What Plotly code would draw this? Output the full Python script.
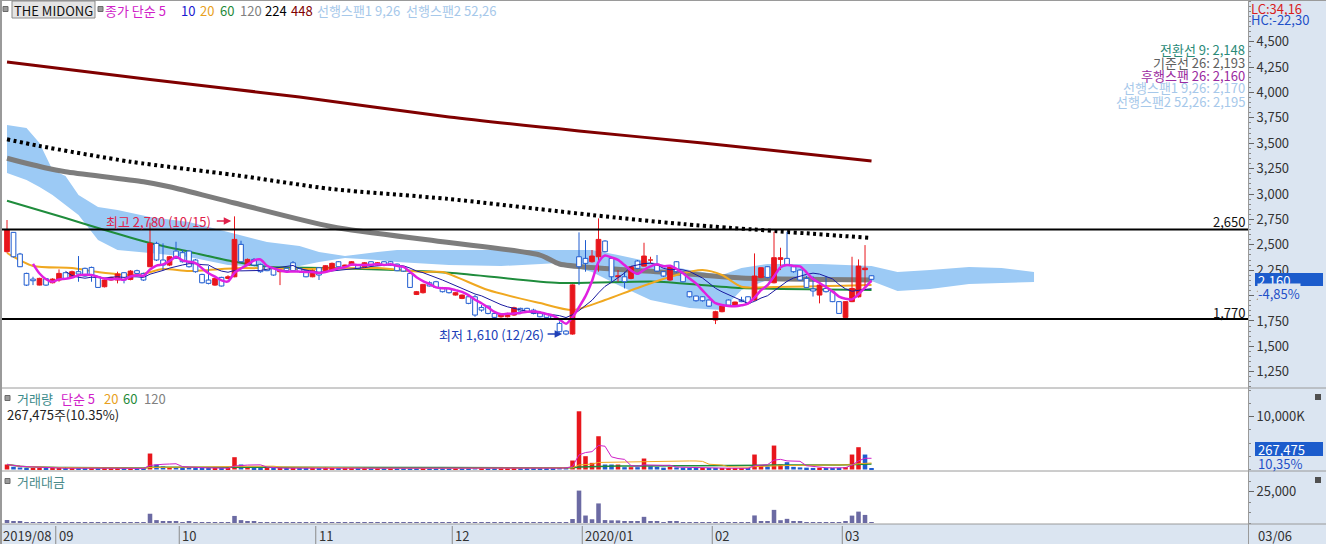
import pandas as pd
import plotly.graph_objects as go

W, H = 1326, 544

# ---------------- data ----------------
holidays = ["2019-09-12", "2019-09-13", "2019-10-03", "2019-10-09", "2019-12-25",
            "2019-12-31", "2020-01-01", "2020-01-24", "2020-01-27"]
trading_days = pd.bdate_range("2019-08-21", "2020-03-06", freq="C", holidays=holidays)

opens = [2432,2622,2409,2218,2162,2103,2166,2126,2153,2225,
         2179,2235,2268,2277,2185,2087,2153,2153,2225,2159,
         2245,2218,2284,2514,2350,2300,2438,2422,2438,2350,
         2208,2153,2103,2179,2169,2185,2504,2300,2356,2307,
         2284,2268,2235,2268,2323,2268,2245,2185,2274,2235,
         2251,2333,2284,2300,2300,2284,2333,2300,2333,2333,
         2310,2284,2218,2011,2028,2126,2136,2077,2070,2005,
         1972,1988,1988,1883,1896,1824,1791,1791,1808,1874,
         1874,1857,1831,1818,1798,1726,1650,1621,2382,2366,
         2333,2382,2537,2366,2185,2185,2169,2340,2290,2350,
         2300,2235,2153,2333,2218,2038,1995,1988,1956,1759,
         1841,1956,1896,1956,1988,1956,2179,2284,2126,2356,
         2366,2284,2251,2169,2065,2005,2070,2038,1940,1785,
         1940,1988,2255,2195]
highs = [2744,2625,2420,2225,2185,2175,2170,2170,2258,2230,
         2245,2389,2275,2285,2190,2160,2185,2235,2230,2250,
         2255,2225,2717,2530,2514,2390,2530,2450,2445,2360,
         2215,2290,2175,2185,2200,2780,2540,2365,2370,2315,
         2290,2275,2258,2275,2340,2275,2250,2255,2280,2300,
         2325,2340,2305,2340,2305,2330,2338,2330,2338,2340,
         2315,2290,2225,2045,2115,2140,2145,2085,2075,2035,
         2010,1995,2005,1906,1900,1830,1815,1830,1890,1880,
         1880,1870,1840,1825,1805,1745,1660,2110,2622,2546,
         2448,2760,2545,2382,2251,2235,2290,2350,2520,2382,
         2399,2240,2300,2340,2225,2045,2000,1995,1960,1850,
         1905,1962,1940,1988,1995,2415,2280,2290,2628,2471,
         2628,2290,2260,2192,2190,2110,2192,2045,1945,1945,
         2382,2356,2497,2200]
lows = [2422,2375,2280,2094,2103,2100,2095,2120,2136,2160,
        2175,2136,2185,2136,2075,2080,2145,2120,2120,2150,
        2210,2145,2280,2340,2251,2290,2360,2325,2275,2225,
        2120,2110,2095,2090,2160,2180,2325,2290,2295,2225,
        2240,2195,2103,2235,2240,2225,2180,2180,2153,2230,
        2245,2278,2280,2295,2260,2280,2290,2295,2295,2295,
        2240,2235,2075,2005,2020,2090,2075,2030,2020,2000,
        1965,1915,1791,1841,1815,1778,1782,1785,1800,1840,
        1835,1815,1785,1778,1765,1635,1610,1615,2103,2235,
        2325,2235,2425,2136,2136,2070,2160,2260,2285,2317,
        2235,2185,2145,2225,2130,1980,1940,1940,1890,1719,
        1835,1900,1890,1935,1915,1950,2170,2170,2120,2251,
        2295,2225,2145,2075,1990,1923,2030,1935,1820,1780,
        1935,1980,2087,2150]
closes = [2645,2382,2284,2103,2146,2169,2103,2162,2218,2169,
          2235,2212,2192,2202,2080,2153,2179,2212,2153,2241,
          2218,2153,2514,2350,2300,2382,2366,2333,2284,2235,
          2126,2120,2169,2094,2185,2553,2333,2356,2300,2235,
          2245,2202,2251,2245,2245,2235,2185,2245,2202,2294,
          2317,2284,2300,2333,2268,2323,2294,2323,2300,2300,
          2245,2241,2080,2038,2110,2094,2080,2038,2028,2028,
          2005,1923,1808,1857,1824,1785,1808,1824,1880,1847,
          1841,1824,1791,1785,1775,1644,1621,2105,2284,2317,
          2389,2553,2432,2185,2195,2136,2284,2268,2389,2356,
          2241,2192,2290,2235,2136,1988,1949,1949,1896,1841,
          1896,1906,1936,1940,1923,2192,2274,2179,2373,2373,
          2300,2235,2153,2080,2045,2103,2038,1940,1824,1940,
          2070,2290,2270,2160]
# volume in thousand shares
volume_k = [945,520,380,300,250,260,220,200,300,230,
            260,350,280,260,300,240,180,220,200,260,
            180,200,3024,950,600,420,450,330,380,300,
            280,260,230,250,200,2330,950,480,350,300,
            250,260,230,200,280,200,220,210,240,260,
            280,220,180,200,190,210,180,170,190,180,
            200,190,350,280,300,220,250,230,200,180,
            200,220,380,250,260,240,180,200,280,200,
            190,210,230,200,220,450,380,1700,11025,2520,
            1260,6300,945,945,945,441,441,441,2079,600,
            500,350,500,400,350,300,250,260,240,300,
            280,200,220,200,220,2835,700,600,4536,945,
            1386,500,400,350,300,350,280,300,320,450,
            2835,4221,2835,267.475]

# long moving averages (at key candles)
ma448_idx = [0, 22, 45, 68, 88, 107, 133]
ma448_val = [4300, 4128, 3955, 3758, 3621, 3502, 3325]
ma224_idx = [0, 5, 19, 35, 50, 68, 90, 104, 133]
ma224_val = [3539, 3473, 3318, 3187, 3049, 2951, 2793, 2704, 2567]
ma120_idx = [0, 6, 9, 21, 25, 35, 50, 67, 82, 85, 91, 103, 113, 133]
ma120_val = [3352, 3256, 3220, 3121, 3072, 2912, 2678, 2530, 2399, 2311, 2271, 2222, 2173, 2153]
ma60_idx = [0, 9, 14, 22, 28, 35, 40, 50, 68, 85, 100, 113, 133]
ma60_val = [2934, 2764, 2665, 2518, 2432, 2333, 2284, 2271, 2225, 2124, 2137, 2075, 2055]
ma20_idx = [0, 4, 10, 14, 20, 24, 28, 36, 45, 57, 64, 67, 74, 82, 87, 92, 97, 103, 107, 110, 113, 118, 133]
ma20_val = [2419, 2291, 2271, 2232, 2202, 2261, 2242, 2271, 2261, 2271, 2232, 2232, 2054, 1926,
            1857, 1956, 2075, 2202, 2251, 2202, 2087, 2084, 2103]

# Ichimoku cloud (leading spans) read at key positions
cloud_idx = [0, 3, 5, 7, 9, 11, 14, 17, 22, 28, 34, 40, 45, 48, 52, 57, 60, 68, 76, 85,
             90, 94, 99, 105, 110, 113, 117, 125, 133, 137, 142, 148, 153, 158]
span_a = [3680, 3650, 3502, 3237, 3177, 2990, 2872, 2843, 2774, 2724, 2626, 2527, 2488, 2429,
          2390, 2429, 2449, 2449, 2449, 2449, 2449, 2399, 2330, 2252, 2202, 2271, 2311, 2311,
          2291, 2232, 2252, 2281, 2271, 2232]
span_b = [3207, 3138, 3069, 2990, 2892, 2793, 2547, 2449, 2419, 2380, 2301, 2281, 2291, 2330,
          2370, 2350, 2330, 2301, 2291, 2321, 2232, 2104, 1956, 1878, 1858, 2055, 2153, 2143,
          2143, 2045, 2065, 2114, 2124, 2134]

level_lines = [2650, 1770]
price_ticks = list(range(1250, 4501, 250))

# ---------------- helpers ----------------
n = len(closes)
idx = list(range(n))
s_close = pd.Series(closes, dtype=float)
ma5 = s_close.rolling(5).mean()
ma10 = s_close.rolling(10).mean()
vol = pd.Series(volume_k, dtype=float) * 1000
vma5 = vol.rolling(5, min_periods=1).mean()
vma20 = vol.rolling(20, min_periods=1).mean()
vma60 = vol.rolling(60, min_periods=1).mean()
avg_px = [(o + h + l + c) / 4 for o, h, l, c in zip(opens, highs, lows, closes)]
value_m = [v * p / 1e6 for v, p in zip(vol, avg_px)]

RED = "#e8161c"
BLUE = "#1f5cd0"
FS = 13

def PX(x):
    return x / W

def PY(y):
    return 1 - y / H

fig = go.Figure()

def line(xs, ys, color, width, dash=None, shape="spline", yaxis="y"):
    fig.add_trace(go.Scatter(x=xs, y=ys, mode="lines", yaxis=yaxis, xaxis="x",
                             line=dict(color=color, width=width, dash=dash, shape=shape, smoothing=0.7),
                             hoverinfo="skip"))

line(ma448_idx, ma448_val, "#800000", 3)
line(ma224_idx, ma224_val, "#000000", 4, dash="3px,3.5px")
line(ma120_idx, ma120_val, "#7d7d7d", 5)
line(ma60_idx, ma60_val, "#1f8c3c", 2)
line(ma20_idx, ma20_val, "#f0a820", 2)

# candles
hw = 0.36
ub_x, ub_y, db_x, db_y = [], [], [], []
uw_x, uw_y, dw_x, dw_y = [], [], [], []
for i, (o, h, l, c) in enumerate(zip(opens, highs, lows, closes)):
    top, bot = max(o, c), min(o, c)
    bx = [i - hw, i + hw, i + hw, i - hw, i - hw, None]
    by = [bot, bot, top, top, bot, None]
    wx = [i, i, None, i, i, None]
    wy = [h, top, None, bot, l, None]
    if c >= o:
        ub_x += bx; ub_y += by; uw_x += wx; uw_y += wy
    else:
        db_x += bx; db_y += by; dw_x += wx; dw_y += wy

fig.add_trace(go.Scatter(x=uw_x, y=uw_y, mode="lines", line=dict(color=RED, width=1), hoverinfo="skip"))
fig.add_trace(go.Scatter(x=dw_x, y=dw_y, mode="lines", line=dict(color=BLUE, width=1), hoverinfo="skip"))
fig.add_trace(go.Scatter(x=ub_x, y=ub_y, mode="lines", fill="toself", fillcolor=RED,
                         line=dict(color=RED, width=1), hoverinfo="skip"))
fig.add_trace(go.Scatter(x=db_x, y=db_y, mode="lines", fill="toself", fillcolor="white",
                         line=dict(color=BLUE, width=1), hoverinfo="skip"))

line(idx, ma10, "#1a1aa0", 1, shape="linear")
line(idx, ma5, "#e020e0", 2.5)

# volume
vcolors = []
for i, c in enumerate(closes):
    prev = closes[i - 1] if i > 0 else opens[0]
    vcolors.append(RED if c >= prev else BLUE)
fig.add_trace(go.Bar(x=idx, y=vol, width=0.7, marker=dict(color=vcolors, line=dict(width=0)),
                     xaxis="x", yaxis="y2", hoverinfo="skip"))
line(idx, vma60, "#1f8c3c", 1.5, shape="linear", yaxis="y2")
line(idx, vma20, "#f0a820", 1, shape="linear", yaxis="y2")
line(idx, vma5, "#d020c8", 1, shape="linear", yaxis="y2")

# trading value
fig.add_trace(go.Bar(x=idx, y=value_m, width=0.7, marker=dict(color="#6b6aa3", line=dict(width=0)),
                     xaxis="x", yaxis="y3", hoverinfo="skip"))

shapes = []
# backgrounds
shapes.append(dict(type="rect", xref="paper", yref="paper", x0=PX(1248), x1=1, y0=PY(524), y1=1,
                   fillcolor="#dbe5f1", line=dict(width=0), layer="below"))
shapes.append(dict(type="rect", xref="paper", yref="paper", x0=0, x1=1, y0=0, y1=PY(524),
                   fillcolor="#dbe5f1", line=dict(width=0), layer="below"))
# cloud
path = "M " + " L ".join(f"{x},{y}" for x, y in zip(cloud_idx, span_a))
path += " L " + " L ".join(f"{x},{y}" for x, y in zip(reversed(cloud_idx), reversed(span_b))) + " Z"
shapes.append(dict(type="path", path=path, xref="x", yref="y", fillcolor="#9ccaf5",
                   line=dict(width=0), layer="below"))
# level lines
for lv in level_lines:
    shapes.append(dict(type="line", xref="paper", yref="y", x0=PX(2), x1=PX(1248), y0=lv, y1=lv,
                       line=dict(color="black", width=2)))
# panel borders
for yy in [388, 471, 524]:
    shapes.append(dict(type="line", xref="paper", yref="paper", x0=0, x1=1, y0=PY(yy), y1=PY(yy),
                       line=dict(color="#9a9a9a", width=1)))
shapes.append(dict(type="line", xref="paper", yref="paper", x0=PX(1248.5), x1=PX(1248.5), y0=0, y1=1,
                   line=dict(color="#9a9a9a", width=1)))
shapes.append(dict(type="line", xref="paper", yref="paper", x0=PX(1), x1=PX(1), y0=0, y1=1,
                   line=dict(color="#9a9a9a", width=2)))
shapes.append(dict(type="line", xref="paper", yref="paper", x0=0, x1=1, y0=PY(0.5), y1=PY(0.5),
                   line=dict(color="#9a9a9a", width=1)))

annotations = []

def txt(x, y, text, color="#222", size=FS, xanchor="left", bg=None):
    d = dict(x=PX(x), y=PY(y), xref="paper", yref="paper", text=text, showarrow=False,
             xanchor=xanchor, yanchor="middle", font=dict(color=color, size=size), borderpad=0)
    if bg:
        d["bgcolor"] = bg
    annotations.append(d)

# date row
months = [d.month for d in trading_days]
for i, d in enumerate(trading_days):
    if i == 0 or months[i] != months[i - 1]:
        label = d.strftime("%Y/%m") if (i == 0 or d.month == 1) else d.strftime("%m")
        if i > 0:
            shapes.append(dict(type="line", xref="x", yref="paper", x0=i - 0.5, x1=i - 0.5,
                               y0=0, y1=PY(526), line=dict(color="#8a8a8a", width=1)))
            annotations.append(dict(x=i - 0.5 + 0.3, y=PY(535), xref="x", yref="paper", text=label,
                                    showarrow=False, xanchor="left", yanchor="middle", borderpad=0,
                                    font=dict(color="#333", size=FS)))
        else:
            txt(2, 535, label, "#333")
txt(1257, 535, trading_days[-1].strftime("%m/%d"), "#333")

# top legend
shapes.append(dict(type="rect", xref="paper", yref="paper", x0=PX(12), x1=PX(95), y0=PY(18), y1=PY(1),
                   fillcolor="#e4e4e4", line=dict(color="#8a8a8a", width=1)))
txt(53.5, 10, "THE MIDONG", "#111", xanchor="center")
for sx, sy in [(3, 9), (98, 9), (5, 398), (5, 481)]:
    shapes.append(dict(type="rect", xref="paper", yref="paper", x0=PX(sx), x1=PX(sx + 5),
                       y0=PY(sy + 2.5), y1=PY(sy - 2.5), fillcolor="#9a9a9a",
                       line=dict(color="#6a6a6a", width=1)))
legend_items = [(104, "종가 단순 5", "#d020c8"), (180, "10", "#1a1ad0"), (199, "20", "#e8a020"),
                (219, "60", "#1f8a3a"), (239, "120", "#808080"), (264, "224", "#000000"),
                (290, "448", "#800000"), (316, "선행스팬1 9,26", "#a6c8ea"),
                (405, "선행스팬2 52,26", "#a6c8ea")]
for x, t, c in legend_items:
    txt(x, 10, t, c)

# right-side ichimoku legend
ichi_items = [(49, "전환선 9: 2,148", "#2a8a78"), (62, "기준선 26: 2,193", "#606060"),
              (75, "후행스팬 26: 2,160", "#9a2aa0"), (88, "선행스팬1 9,26: 2,170", "#a6c8ea"),
              (101, "선행스팬2 52,26: 2,195", "#a6c8ea")]
for y, t, c in ichi_items:
    txt(1246, y, t, c, xanchor="right")

txt(1250, 8.5, "LC:34,16", "#d81e1e")
txt(1250, 20, "HC:-22,30", "#1e50c8")
txt(1246, 221, "2,650", "#111", xanchor="right")
txt(1246, 312, "1,770", "#111", xanchor="right")

# high / low annotations
hi_i = highs.index(max(highs))
lo_i = lows.index(min(lows))
txt(212, 221, f"최고 {max(highs):,} ({trading_days[hi_i].strftime('%m/%d')})", "#e0204a", xanchor="right")
annotations.append(dict(x=hi_i - 0.5, y=PY(221), xref="x", yref="paper", ax=-16, ay=0, axref="pixel",
                        ayref="pixel", text="", showarrow=True, arrowhead=2, arrowsize=1,
                        arrowwidth=1.5, arrowcolor="#e0204a"))
txt(545, 334, f"최저 {min(lows):,} ({trading_days[lo_i].strftime('%m/%d')})", "#2040b8", xanchor="right")
annotations.append(dict(x=lo_i - 0.6, y=PY(334), xref="x", yref="paper", ax=-16, ay=0, axref="pixel",
                        ayref="pixel", text="", showarrow=True, arrowhead=2, arrowsize=1,
                        arrowwidth=1.5, arrowcolor="#2040b8"))

# current price box
shapes.append(dict(type="rect", xref="paper", yref="paper", x0=PX(1255), x1=PX(1323), y0=PY(286),
                   y1=PY(273), fillcolor="#1c5ccc", line=dict(width=0)))
txt(1257, 280, f"{closes[-1]:,}", "white")
txt(1257, 293, "-4,85%", "#1e50c8", bg="#dbe5f1")

# volume legend / box
txt(16, 398, "거래량", "#3a8a8a")
txt(60, 398, "단순 5", "#d020c8")
txt(103, 398, "20", "#e8a020")
txt(122, 398, "60", "#1f8a3a")
txt(143, 398, "120", "#808080")
txt(6, 414, f"{int(volume_k[-1]*1000):,}주(10.35%)", "#222")
shapes.append(dict(type="rect", xref="paper", yref="paper", x0=PX(1255), x1=PX(1323), y0=PY(456),
                   y1=PY(442), fillcolor="#1c5ccc", line=dict(width=0)))
txt(1257, 449, f"{int(volume_k[-1]*1000):,}", "white")
txt(1257, 463, "10,35%", "#1e50c8")
txt(16, 481, "거래대금", "#4a8a8a")
for cy in [397, 480]:
    shapes.append(dict(type="rect", xref="paper", yref="paper", x0=PX(1315), x1=PX(1321), y0=PY(cy + 3),
                       y1=PY(cy - 3), fillcolor="#505050", line=dict(width=0)))

axis_common = dict(side="right", anchor="x", showgrid=False, zeroline=False, showline=False,
                   ticks="outside", ticklen=5, tickcolor="#666", tickfont=dict(size=FS, color="#333"),
                   fixedrange=True)

fig.update_layout(
    width=W, height=H, autosize=False, margin=dict(l=0, r=0, t=0, b=0),
    paper_bgcolor="white", plot_bgcolor="white", showlegend=False, hovermode=False,
    barmode="overlay",
    font=dict(family="Noto Sans CJK KR, Noto Sans, sans-serif", size=FS),
    xaxis=dict(domain=[PX(2), PX(1248)], range=[-0.77, 190.92], showticklabels=False, showgrid=False,
               zeroline=False, ticks="", showline=False, anchor="y3", fixedrange=True),
    yaxis=dict(domain=[PY(388), 1], range=[1089.6, 4910.6], tickvals=price_ticks,
               ticktext=[f"{v:,}" for v in price_ticks],
               minor=dict(tick0=0, dtick=50, ticks="outside", ticklen=2, tickcolor="#888"),
               **axis_common),
    yaxis2=dict(domain=[PY(471), PY(388)], range=[-284e3, 15.436e6], tickvals=[1e7], ticktext=["10,000K"],
                minor=dict(tick0=0, dtick=2.5e6, ticks="outside", ticklen=2, tickcolor="#888"),
                **axis_common),
    yaxis3=dict(domain=[PY(524), PY(471)], range=[-800, 41533], tickvals=[25000], ticktext=["25,000"],
                minor=dict(tick0=0, dtick=8333.33, ticks="outside", ticklen=2, tickcolor="#888"),
                **axis_common),
    shapes=shapes, annotations=annotations,
)

fig.write_html("out.html", config={"displayModeBar": False},
               post_script="document.body.style.margin='0';document.body.style.padding='0';"
                           "document.body.style.overflow='hidden';")
